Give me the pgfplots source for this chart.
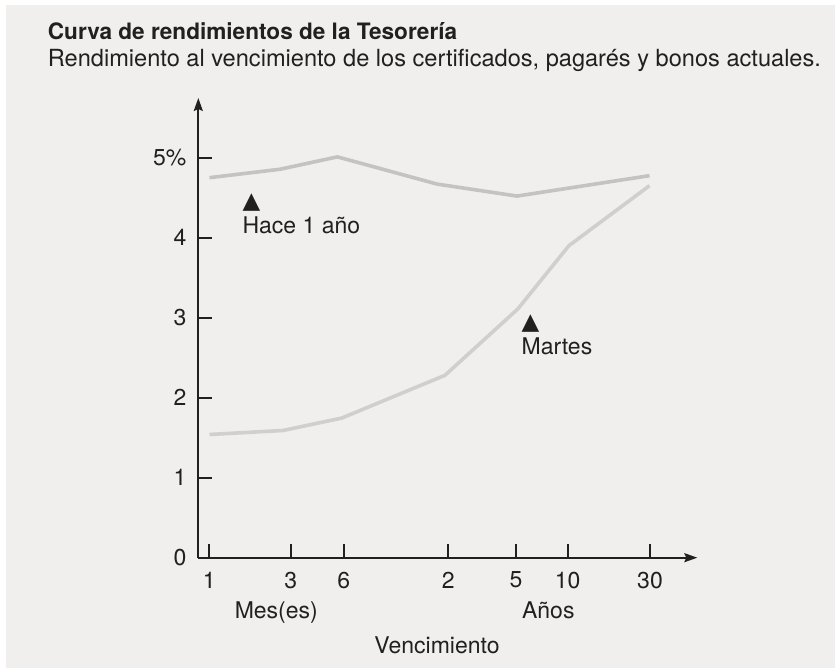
\documentclass[border=0pt]{standalone}
\usepackage{pgfplots}
\pgfplotsset{compat=1.18}
\usepackage{fontspec}
\setmainfont{TeX Gyre Heros}
\newfontfamily\symfont{DejaVu Sans}
\usetikzlibrary{arrows.meta}
\definecolor{bg}{HTML}{F0EFED}
\definecolor{axc}{HTML}{231F20}
\definecolor{lineA}{HTML}{C4C3C4}
\definecolor{lineB}{HTML}{CFCFCF}
\newcommand{\lbl}{\fontsize{23bp}{27bp}\selectfont}
\begin{document}
\begin{tikzpicture}[x=1bp,y=1bp]
\fill[white] (0,0) rectangle (835,668);
\fill[bg] (6,0) rectangle (835,663);
\begin{axis}[
  at={(198.3bp,110.3bp)}, anchor=south west,
  scale only axis, width=499bp, height=459.7bp,
  xmin=0, xmax=499, ymin=0, ymax=5.746,
  axis lines=left,
  axis line style={line width=1.8bp, color=axc, -{Stealth[length=13bp,width=9bp,inset=2bp]}},
  tick align=inside,
  major tick length=13.5bp,
  tick style={line width=1.8bp, color=axc},
  xtick={11,92.4,145.4,250,317.7,369.4,451.7},
  xticklabels={1,3,6,2,5,10,30},
  ytick={1,2,3,4,5},
  yticklabels={1,2,3,4,5\%},
  extra y ticks={0}, extra y tick labels={0},
  extra y tick style={major tick length=0pt},
  tick label style={font=\lbl, text=axc, inner sep=0pt},
  xticklabel style={anchor=north, yshift=-14bp},
  yticklabel style={anchor=east, xshift=-11.8bp},
  clip=false,
]
\addplot[lineA, line width=3.6bp] coordinates {(11.2,4.75) (81.7,4.855) (139.1,5.01) (238.7,4.67) (318.7,4.52) (451.2,4.775)};
\addplot[lineB, line width=3.6bp] coordinates {(11.2,1.54) (84.7,1.59) (143.4,1.745) (246.7,2.28) (319.6,3.11) (370.6,3.9) (451.2,4.65)};
\end{axis}
\node[anchor=base west, inner sep=0pt, font=\fontsize{22.6bp}{26bp}\selectfont\bfseries, text=axc] at (47.7,628.5) {Curva de rendimientos de la Tesorería};
\node[anchor=base west, inner sep=0pt, font=\fontsize{23.6bp}{27bp}\selectfont, text=axc] at (47.7,601) {Rendimiento al vencimiento de los certificados, pagarés y bonos actuales.};
\node[anchor=base west, inner sep=0pt, font=\lbl, text=axc] at (242.3,434) {Hace 1 año};
\node[anchor=base west, inner sep=0pt, font=\lbl, text=axc] at (521.4,313.7) {Martes};
\node[anchor=base west, inner sep=0pt, text=axc] at (242.3,459) {\symfont\fontsize{23bp}{25bp}\selectfont ▲};
\node[anchor=base west, inner sep=0pt, text=axc] at (521.4,338) {\symfont\fontsize{23bp}{25bp}\selectfont ▲};
\node[anchor=base, inner sep=0pt, font=\lbl, text=axc] at (276.3,49.5) {Mes(es)};
\node[anchor=base, inner sep=0pt, font=\lbl, text=axc] at (548.3,49.5) {Años};
\node[anchor=base, inner sep=0pt, font=\lbl, text=axc] at (437,14.7) {Vencimiento};
\end{tikzpicture}
\end{document}
